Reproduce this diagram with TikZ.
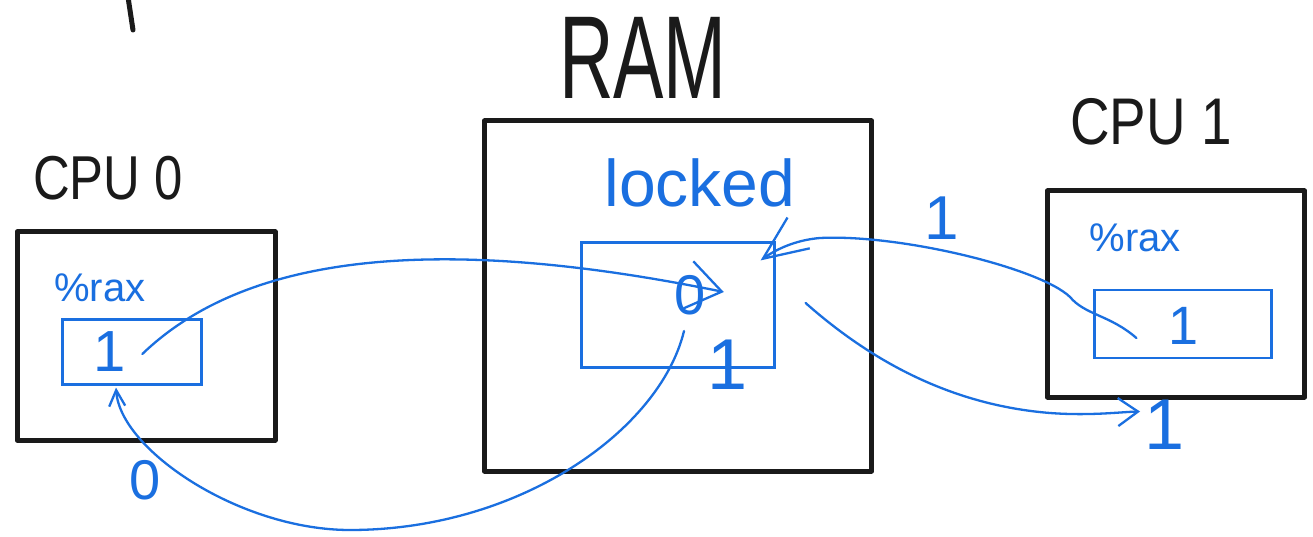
\documentclass[tikz,border=0pt]{standalone}
\usepackage{fontspec}
\setmainfont{Liberation Sans}
\usepackage{graphicx}
\usetikzlibrary{arrows.meta,calc}
\definecolor{pen}{HTML}{1A1A1A}
\definecolor{ink}{HTML}{1A6FE0}
\begin{document}
\begin{tikzpicture}[x=1pt,y=-1pt,
  hbox/.style={draw=pen, line width=5pt, inner sep=0pt, line join=round},
  regbox/.style={draw=ink, line width=2.2pt, inner sep=0pt},
  lbl/.style={text=pen, inner sep=0pt},
  bt/.style={text=ink, inner sep=0pt},
  conn/.style={draw=ink, line width=2.3pt, line cap=round, line join=round},
  penstroke/.style={draw=pen, line width=5pt, line cap=round}]
\fill[white] (0,0) rectangle (1313,537);
\useasboundingbox (0,0) rectangle (1313,537);

% stray stroke at the top
\coordinate (s1) at (128,-3);
\coordinate (s2) at (133,30);
\draw[penstroke] (s1) -- (s2);

% boxes
\node[hbox, minimum width=258, minimum height=208] (cpu0) at (146,336) {};
\node[hbox, minimum width=387, minimum height=350] (ram) at (678,296) {};
\node[hbox, minimum width=257, minimum height=206] (cpu1) at (1176,294) {};

% black labels
\node[lbl] (cpu0lbl) at (108,178) {\fontsize{62}{62}\selectfont\scalebox{0.82}[1]{CPU 0}};
\node[lbl] (ramlbl) at (643,58) {\fontsize{118}{118}\selectfont\scalebox{0.64}[1]{RAM}};
\node[lbl] (cpu1lbl) at (1151,122) {\fontsize{66}{66}\selectfont\scalebox{0.83}[1]{CPU 1}};

% CPU0 contents
\node[bt] (rax0) at (100,288) {\fontsize{40}{40}\selectfont\%rax};
\node[regbox, minimum width=139, minimum height=65] (r0) at (132,352) {};
\node[bt] (v0) at (110,352) {\fontsize{58}{58}\selectfont 1};
\node[bt] (zero0) at (145,480) {\fontsize{56}{56}\selectfont 0};

% RAM contents
\node[bt] (locked) at (700,183) {\fontsize{66}{66}\selectfont locked};
\node[regbox, minimum width=193, minimum height=125] (m) at (678,305) {};
\node[bt] (z) at (690,295) {\fontsize{56}{56}\selectfont 0};
\node[bt] (one1) at (728,365) {\fontsize{72}{72}\selectfont 1};

% CPU1 contents
\node[bt] (rax1) at (1135,238) {\fontsize{40}{40}\selectfont\%rax};
\node[regbox, minimum width=177, minimum height=68] (r1) at (1183,324) {};
\node[bt] (v1) at (1183,326) {\fontsize{54}{54}\selectfont 1};

% other labels
\node[bt] (oneC) at (942,218) {\fontsize{62}{62}\selectfont 1};
\node[bt] (oneD) at (1165,425) {\fontsize{72}{72}\selectfont 1};

% connectors
\coordinate (startA) at ($(v0.east)+(16,2)$);
\coordinate (tipA) at ($(z.east)+(18,-3)$);
\draw[conn, -{Straight Barb[length=34pt,width=48pt]}] (startA) .. controls (240,260) and (420,230) .. (tipA);

\coordinate (startB) at ($(z.south)+(-6,16)$);
\coordinate (endB) at ($(r0.south)+(-16,2)$);
\draw[conn, -{Straight Barb[length=16pt,width=16pt]}] (startB) .. controls (660,430) and (520,530) .. (350,530) .. controls (240,530) and (120,450) .. (endB);

\coordinate (startC) at ($(r1.west)+(43,14)$);
\coordinate (tipC) at ($(m.north east)+(-15,19)$);
\draw[conn, -{Straight Barb[length=44pt,width=38pt]}] (startC) .. controls (1110,315) and (1085,315) .. (1070,297) .. controls (1040,268) and (900,234) .. (820,238) .. controls (795,240) and (775,250) .. (tipC);

\coordinate (startD) at ($(m.east)+(30,-2)$);
\coordinate (tipD) at ($(cpu1.south)+(-36,12)$);
\draw[conn, -{Straight Barb[length=20pt,width=28pt]}] (startD) .. controls (870,360) and (950,405) .. (1050,413) .. controls (1090,416) and (1120,412) .. (tipD);
\end{tikzpicture}
\end{document}
